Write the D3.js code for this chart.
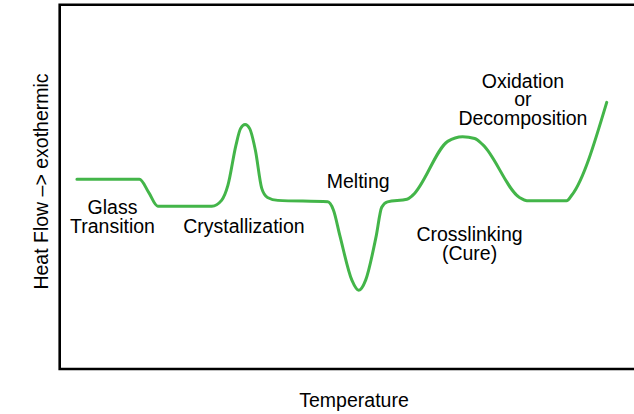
<!DOCTYPE html>
<html>
  <head>
    <meta charset="utf-8">
    <style>
      body {
        margin: 0;
        background: #fff;
      }
      text {
        font-family: "Liberation Sans", Arial, sans-serif;
        font-size: 19.5px;
        fill: #000;
      }
      .curve {
        fill: none;
        stroke: #43b549;
        stroke-width: 3px;
        stroke-linejoin: round;
        stroke-linecap: round;
      }
      .frame {
        fill: none;
        stroke: #000;
        stroke-width: 2.6px;
      }
    </style>
  </head>
  <body>
    <script src="https://cdn.jsdelivr.net/npm/d3@7"></script>
    <script>
      // DSC schematic trace (arbitrary units, 0-100 on both axes)
      var temperature = [3.0, 13.9, 15.5, 17.1, 26.5, 28.2, 29.3, 30.7, 31.5, 32.3, 33.1, 34.1, 35.2, 36.2, 38.0,
                         46.7, 47.7, 48.8, 50.9, 52.1, 53.3, 55.1, 56.1, 57.1, 60.5,
                         61.5, 67.6, 70.2, 72.3, 73.7, 80.1, 81.4, 88.3, 89.2, 95.3];
      var heatFlow = [52.1, 52.1, 48.5, 44.7, 44.7, 46.3, 50.4, 61.4, 66.0, 67.1, 66.0, 60.0, 49.6, 47.1, 46.3,
                      45.9, 43.6, 36.7, 24.4, 21.6, 24.4, 36.2, 44.4, 45.9, 46.6,
                      47.7, 62.5, 63.8, 63.3, 61.6, 47.1, 46.2, 46.2, 47.7, 73.2];

      // transition labels: lines of text and where they sit (data units)
      var labelLines = [["Glass", "Transition"], ["Crystallization"], ["Melting"],
                        ["Crosslinking", "(Cure)"], ["Oxidation", "or", "Decomposition"]];
      var labelX = [9.2, 32.1, 52.0, 71.4, 80.7];
      var labelY = [42.5, 37.4, 49.6, 35.1, 77.2];

      var xTitle = "Temperature";
      var yTitle = "Heat Flow –> exothermic";

      var width = 634, height = 414;
      var margin = {top: 4.8, right: 0, bottom: 45, left: 59.7};

      var svg = d3.select("body").append("svg")
          .attr("width", width)
          .attr("height", height);

      var x = d3.scaleLinear()
          .domain([0, 100])
          .range([margin.left, margin.left + 574]);

      var y = d3.scaleLinear()
          .domain([0, 100])
          .range([height - margin.bottom, margin.top]);

      // open frame: top, left and bottom sides
      svg.append("path")
          .attr("class", "frame")
          .attr("d", "M" + width + "," + y(100) + "H" + x(0) + "V" + y(0) + "H" + width);

      var points = temperature.map(function(t, i){ return [t, heatFlow[i]]; });

      var line = d3.line()
          .x(function(d){ return x(d[0]); })
          .y(function(d){ return y(d[1]); })
          .curve(d3.curveMonotoneX);

      svg.append("path")
          .datum(points)
          .attr("class", "curve")
          .attr("d", line);

      var lineHeight = 18.5;

      labelLines.forEach(function(lines, i){
        var t = svg.append("text")
            .attr("text-anchor", "middle")
            .attr("x", x(labelX[i]))
            .attr("y", y(labelY[i]));
        lines.forEach(function(s, j){
          t.append("tspan")
              .attr("x", x(labelX[i]))
              .attr("dy", j === 0 ? 0 : lineHeight)
              .text(s);
        });
      });

      svg.append("text")
          .attr("text-anchor", "middle")
          .attr("x", 354)
          .attr("y", 407)
          .text(xTitle);

      svg.append("text")
          .attr("text-anchor", "middle")
          .attr("transform", "translate(48,181.5) rotate(-90)")
          .text(yTitle);
    </script>
  </body>
</html>
